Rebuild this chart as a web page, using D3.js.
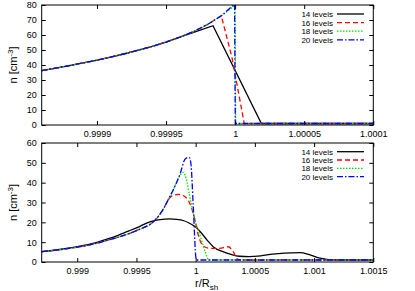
<!DOCTYPE html>
<html>
<head>
<meta charset="utf-8">
<script src="https://cdn.jsdelivr.net/npm/d3@7"></script>
<style>
  body { margin: 0; background: #fff; }
  svg { display: block; }
  text { font-family: "Liberation Sans", Arial, Helvetica, sans-serif; }
</style>
</head>
<body>
<svg id="chart" width="415" height="291"></svg>
<script>
// values
var levels = ["14 levels", "16 levels", "18 levels", "20 levels"];

var topTicks = [0.9999, 0.99995, 1, 1.00005, 1.0001];
var topTickLabels = ["0.9999", "0.99995", "1", "1.00005", "1.0001"];
var bottomTicks = [0.999, 0.9995, 1, 1.0005, 1.001, 1.0015];
var bottomTickLabels = ["0.999", "0.9995", "1", "1.0005", "1.001", "1.0015"];
var topYTicks = [0, 10, 20, 30, 40, 50, 60, 70, 80];
var bottomYTicks = [0, 10, 20, 30, 40, 50, 60];

// top panel, zoomed on the shock
var topBase = [[0.99986, 36.2], [0.99987, 37.9], [0.99988, 39.6], [0.99989, 41.4], [0.9999, 43.2],
  [0.99991, 45.3], [0.99992, 47.5], [0.99993, 49.9], [0.99994, 52.4], [0.99995, 55.3], [0.99996, 58.6]];
var top14 = topBase.concat([[0.99997, 61.7], [0.999984, 66.2], [1.000019, 1.0], [1.0001, 1.0]]);
var top16 = topBase.concat([[0.99997, 62.3], [0.99998, 67.0], [0.99999, 72.8], [0.9999977, 45.0], [1.0000066, 1.0], [1.0001, 1.0]]);
var top18 = topBase.concat([[0.99997, 62.3], [0.99998, 67.0], [0.99999, 72.8], [1.0, 79.8], [1.0000004, 1.0], [1.0001, 1.0]]);
var top20 = topBase.concat([[0.99997, 62.3], [0.99998, 67.0], [0.99999, 72.8], [0.9999996, 80.6], [1.0000001, 1.0], [1.0001, 1.0]]);

// bottom panel
var lowBase = [[0.9987, 5.2], [0.99885, 6.2], [0.999, 7.5], [0.99915, 9.2], [0.99925, 10.9], [0.99935, 12.6],
  [0.99945, 14.6], [0.99953, 16.6], [0.99962, 19.2], [0.99968, 22.6], [0.99973, 27.0]];
var low14 = [[0.9987, 5.2], [0.99885, 6.3], [0.999, 7.7], [0.99915, 9.6], [0.99925, 11.5], [0.99935, 13.6],
  [0.99945, 16.0], [0.99953, 18.0], [0.99962, 20.4], [0.9997, 21.4], [0.99978, 21.7], [0.99984, 21.5],
  [0.9999, 20.8], [0.99994, 19.8], [1.0, 17.6], [1.00005, 14.5], [1.0001, 10.8], [1.00015, 7.6],
  [1.00023, 5.2], [1.0003, 3.8], [1.00037, 2.9], [1.00045, 2.7], [1.00055, 3.1], [1.00065, 4.0],
  [1.00075, 4.5], [1.00088, 4.7], [1.00096, 3.7], [1.00105, 1.9], [1.00112, 1.2], [1.0012, 1.0], [1.0015, 1.0]];
var low16 = lowBase.concat([[0.99976, 30.4], [0.9998, 33.3], [0.999853, 34.1], [0.99991, 32.9], [0.99995, 29.6],
  [0.999994, 21.2], [1.000022, 13.6], [1.000064, 8.1], [1.00012, 6.9], [1.0002, 6.9], [1.000275, 7.7],
  [1.000317, 5.2], [1.000346, 1.9], [1.00037, 1.0], [1.0015, 1.0]]);
var low18 = lowBase.concat([[0.99977, 31.6], [0.99981, 36.3], [0.99985, 41.6], [0.999895, 45.2], [0.99992, 42.0],
  [0.99995, 33.0], [0.999994, 21.2], [1.00005, 11.1], [1.00008, 5.2], [1.000106, 1.4], [1.00012, 1.0], [1.0015, 1.0]]);
var low20 = lowBase.concat([[0.99977, 31.6], [0.99981, 36.3], [0.99987, 44.7], [0.99991, 51.8], [0.999945, 52.8],
  [0.99996, 49.5], [0.99998, 27.9], [1.000003, 1.9], [1.00001, 1.0], [1.0015, 1.0]]);

var colors = ["#000000", "#ff0000", "#00e000", "#0000ff"];
var dashes = [null, "5,3", "1.5,1.5", "6,2,1.5,2"];

var svg = d3.select("#chart");
var left = 41.7, right = 373.3;

function panel(cfg) {
  var x = d3.scaleLinear().domain(cfg.xDomain).range([left, right]);
  var y = d3.scaleLinear().domain(cfg.yDomain).range([cfg.bottom, cfg.top]);
  var g = svg.append("g");

  g.append("clipPath").attr("id", cfg.id)
    .append("rect")
    .attr("x", left).attr("y", cfg.top)
    .attr("width", right - left).attr("height", cfg.bottom - cfg.top);

  var line = d3.line().x(d => x(d[0])).y(d => y(d[1])).curve(cfg.curve);

  g.append("g").attr("clip-path", "url(#" + cfg.id + ")")
    .selectAll("path")
    .data(cfg.series)
    .enter().append("path")
    .attr("d", line)
    .attr("fill", "none")
    .attr("stroke", (d, i) => colors[i])
    .attr("stroke-width", 1.3)
    .attr("stroke-dasharray", (d, i) => dashes[i]);

  // inward ticks on all four sides, gnuplot style
  var fmt = d => cfg.xLabels[cfg.xTicks.indexOf(d)];
  var ax = [
    g.append("g").attr("transform", "translate(0," + cfg.bottom + ")")
      .call(d3.axisBottom(x).tickValues(cfg.xTicks).tickFormat(fmt).tickSize(-4).tickPadding(6)),
    g.append("g").attr("transform", "translate(0," + cfg.top + ")")
      .call(d3.axisTop(x).tickValues(cfg.xTicks).tickFormat("").tickSize(-4)),
    g.append("g").attr("transform", "translate(" + left + ",0)")
      .call(d3.axisLeft(y).tickValues(cfg.yTicks).tickSize(-4).tickPadding(5)),
    g.append("g").attr("transform", "translate(" + right + ",0)")
      .call(d3.axisRight(y).tickValues(cfg.yTicks).tickFormat("").tickSize(-4))
  ];
  ax.forEach(a => {
    a.select(".domain").remove();
    a.selectAll("line").attr("stroke", "#000");
    a.selectAll("text").attr("font-size", 9).attr("fill", "#000")
      .attr("font-family", '"Liberation Sans", Arial, sans-serif');
  });

  g.append("rect")
    .attr("x", left).attr("y", cfg.top)
    .attr("width", right - left).attr("height", cfg.bottom - cfg.top)
    .attr("fill", "none").attr("stroke", "#000").attr("stroke-width", 1);

  // y label n [cm^-3]
  var yl = g.append("text")
    .attr("transform", "translate(17," + ((cfg.top + cfg.bottom) / 2) + ") rotate(-90)")
    .attr("text-anchor", "middle")
    .attr("font-size", 11);
  yl.append("tspan").text("n [cm");
  yl.append("tspan").attr("font-size", 8).attr("dy", -4).text("-3");
  yl.append("tspan").attr("dy", 4).text("]");

  // legend
  var leg = g.append("g").selectAll("g")
    .data(levels)
    .enter().append("g")
    .attr("transform", (d, i) => "translate(0," + (cfg.legendY + i * cfg.legendStep) + ")");
  leg.append("text")
    .attr("x", 333).attr("y", 3)
    .attr("text-anchor", "end")
    .attr("font-size", 8)
    .text(d => d);
  leg.append("line")
    .attr("x1", 337).attr("x2", 364)
    .attr("stroke", (d, i) => colors[i])
    .attr("stroke-width", 1.3)
    .attr("stroke-dasharray", (d, i) => dashes[i]);
}

panel({
  id: "clipTop", top: 5, bottom: 125,
  xDomain: [0.99986, 1.0001], yDomain: [0, 80],
  xTicks: topTicks, xLabels: topTickLabels, yTicks: topYTicks,
  series: [top14, top16, top18, top20], curve: d3.curveLinear,
  legendY: 14, legendStep: 8.6
});

panel({
  id: "clipBottom", top: 143, bottom: 262,
  xDomain: [0.9987, 1.0015], yDomain: [0, 60],
  xTicks: bottomTicks, xLabels: bottomTickLabels, yTicks: bottomYTicks,
  series: [low14, low16, low18, low20], curve: d3.curveMonotoneX,
  legendY: 151.7, legendStep: 8.3
});

// x label r/R_sh
var xl = svg.append("text")
  .attr("x", 195).attr("y", 287)
  .attr("font-size", 11);
xl.append("tspan").text("r/R");
xl.append("tspan").attr("font-size", 8).attr("dy", 3).text("sh");
</script>
</body>
</html>
